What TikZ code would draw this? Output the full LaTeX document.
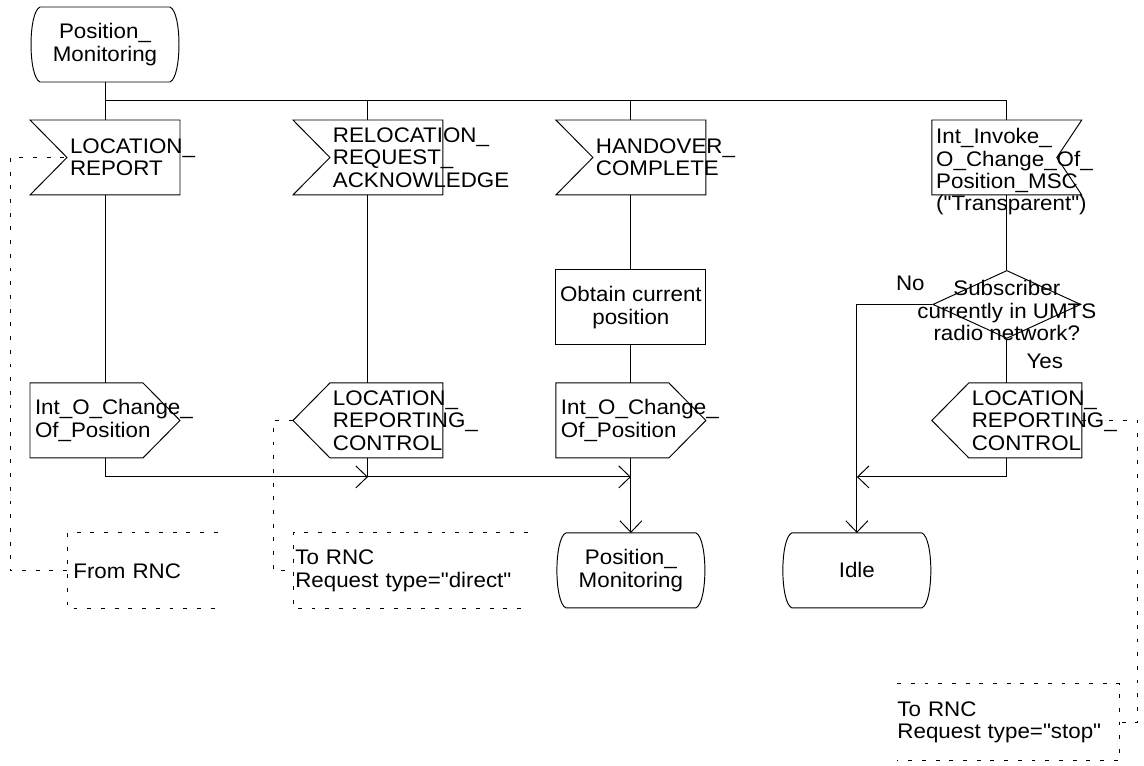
\documentclass[tikz,border=0pt]{standalone}
\usepackage{fontspec}
\setmainfont{Liberation Sans}[FakeStretch=1.06, Ligatures=TeXOff]
\usetikzlibrary{arrows.meta,positioning,calc,shapes.geometric}
\hyphenpenalty=10000

\begin{document}
\begin{tikzpicture}[
  x=0.02cm, y=-0.02cm,
  font=\fontsize{12}{12.8}\selectfont,
  node distance=0.76cm and 2.26cm,
  ln/.style={line width=0.55pt},
  arr/.style={ln, -{Straight Barb[length=6.5pt, width=12.5pt]}},
  cmtline/.style={line width=0.5pt, dash pattern=on 2.2pt off 5.6pt},
  sym/.style={minimum width=3cm, minimum height=1.5cm, inner sep=0pt, outer sep=0pt},
  insig/.style={sym, text width=1.4cm, align=left},
  outsig/.style={sym, text width=2.8cm, align=left},
  state/.style={sym, align=center},
  task/.style={sym, draw, line width=0.55pt, align=center},
  decision/.style={diamond, draw, line width=0.55pt, minimum width=2.96cm, minimum height=1.36cm, inner sep=0pt},
  cmt/.style={minimum height=1.5cm, inner sep=0pt, align=left},
  lbl/.style={inner sep=0pt}
]
\useasboundingbox (0,0) rectangle (1144,765);

% start state and the four inputs
\node[state] (pm1) at (105,44.5) {Position\_\\Monitoring};
\node[insig, below=of pm1] (lr) {LOCATION\_\\REPORT};
\node[insig, right=of lr] (rra) {RELOCATION\_\\REQUEST\_\\ACKNOWLEDGE};
\node[insig, right=of rra] (hc) {HANDOVER\_\\COMPLETE};
\node[sym, right=4.52cm of hc,
  label={[lbl, align=left, anchor=north west, xshift=2.3pt, yshift=-4.5pt]north west:Int\_Invoke\_\\O\_Change\_Of\_\\Position\_MSC\\("Transparent")}] (inv) {};

% middle row
\node[task, below=1.5cm of hc] (ocp) {Obtain~current\\position};
\node[decision, below=1.5cm of inv,
  label={[lbl, align=center, yshift=-3.5pt]center:Subscriber\\currently in UMTS\\radio network?}] (dec) {};
\node[lbl] (no) at ($(dec.west)+(-22,-21)$) {No};
\node[lbl] (yes) at ($(dec.south)+(38,22)$) {Yes};

% outputs
\node[outsig, below=3.76cm of lr] (oc1) {Int\_O\_Change\_\\Of\_Position};
\node[insig, below=3.76cm of rra] (lrc1) {LOCATION\_\\REPORTING\_\\CONTROL};
\node[outsig, below=0.76cm of ocp] (oc2) {Int\_O\_Change\_\\Of\_Position};
\node[insig, below=3.76cm of inv] (lrc2) {LOCATION\_\\REPORTING\_\\CONTROL};

% next states
\node[state, below=1.5cm of oc2] (pm2) {Position\_\\Monitoring};
\node[state, right=1.52cm of pm2] (idle) {Idle};

% comments
\node[cmt, minimum width=3cm, text width=2.76cm, below right=1.5cm and 0.74cm of oc1.south west] (cm1) {From RNC};
\node[cmt, minimum width=4.68cm, text width=4.6cm, below right=1.5cm and 0cm of lrc1.south west] (cm2) {To~RNC\\Request~type="direct"};
\node[cmt, minimum height=1.52cm, text width=4.44cm, below left=4.52cm and -0.76cm of lrc2.south east] (cm3) {To~RNC\\Request~type="stop"};

% symbol outlines
\foreach \n in {pm1,pm2,idle}
  \draw[ln] ($(\n.north west)+(10,0)$) -- ($(\n.north east)+(-10,0)$)
    .. controls ($(\n.north east)+(2,5)$) and ($(\n.south east)+(2,-5)$) .. ($(\n.south east)+(-10,0)$)
    -- ($(\n.south west)+(10,0)$)
    .. controls ($(\n.south west)+(-2,-5)$) and ($(\n.north west)+(-2,5)$) .. cycle;
\foreach \n in {lr,rra,hc}
  \draw[ln] (\n.north west) -- (\n.north east) -- (\n.south east) -- (\n.south west) -- ($(\n.west)+(37,0)$) -- cycle;
\foreach \n in {oc1,oc2}
  \draw[ln] (\n.north west) -- ($(\n.north east)+(-37,0)$) -- (\n.east) -- ($(\n.south east)+(-37,0)$) -- (\n.south west) -- cycle;
\foreach \n in {lrc1,lrc2}
  \draw[ln] (\n.west) -- ($(\n.north west)+(37,0)$) -- (\n.north east) -- (\n.south east) -- ($(\n.south west)+(37,0)$) -- cycle;
\draw[ln] (inv.north west) -- (inv.north east) -- ($(inv.east)+(-25,0)$) -- (inv.south east) -- (inv.south west) -- cycle;
\foreach \n in {cm1,cm2}
  \draw[cmtline] (\n.north east) -- (\n.north west) -- (\n.south west) -- (\n.south east);
\draw[cmtline] (cm3.north west) -- (cm3.north east) -- (cm3.south east) -- (cm3.south west);

% flow lines
\coordinate (j0) at ($(pm1.south)+(0,18)$);
\draw[ln] (pm1) -- (lr);
\draw[ln] (j0) -| (inv);
\draw[ln] (j0 -| rra) -- (rra);
\draw[ln] (j0 -| hc) -- (hc);
\draw[ln] (lr) -- (oc1);
\draw[ln] (rra) -- (lrc1);
\draw[ln] (hc) -- (ocp) -- (oc2);
\draw[ln] (inv) -- (dec) -- (lrc2);

\coordinate (m0) at ($(oc1.south)+(0,19)$);
\coordinate (m1) at (m0 -| lrc1);
\coordinate (m2) at (m0 -| oc2);
\coordinate (m3) at (m0 -| idle);
\draw[arr] (oc1) |- (m1);
\draw[ln] (lrc1) -- (m1);
\draw[arr] (m1) -- (m2);
\draw[ln] (oc2) -- (m2);
\draw[arr] (m2) -- (pm2);
\draw[arr] (dec) -| (idle);
\draw[arr] (lrc2) |- (m3);

% comment links
\draw[cmtline] (cm1.west) -- ++(-57,0) |- ($(lr.west)+(37,0)$);
\draw[cmtline] (lrc1.west) -- ++(-20,0) |- (cm2.west);
\draw[cmtline] (lrc2.east) -- ++(56,0) |- (cm3.east);
\end{tikzpicture}
\end{document}
